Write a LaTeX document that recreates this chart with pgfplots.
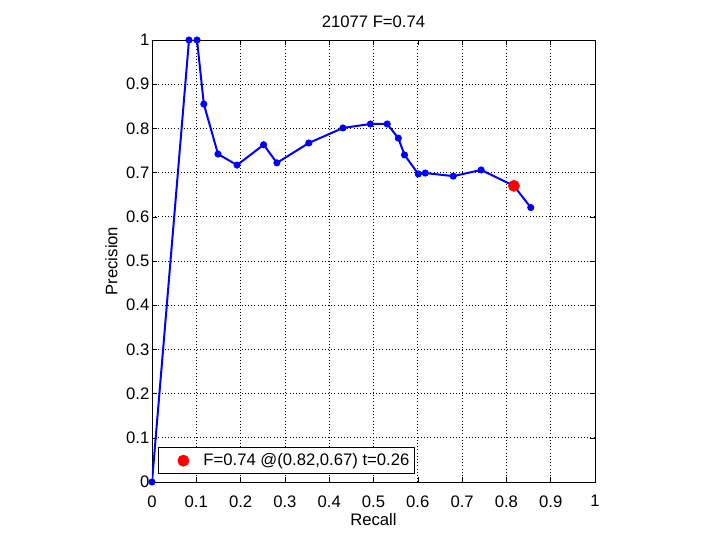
\documentclass[border=0pt]{standalone}
\usepackage{pgfplots}
\pgfplotsset{compat=1.18}
\usepackage{fontspec}
\setmainfont{Liberation Sans}
\begin{document}
\begin{tikzpicture}
\begin{axis}[
  at={(0,0)}, anchor=south west,
  scale only axis,
  width=332.25pt, height=331.5pt,
  xmin=0, xmax=1, ymin=0, ymax=1,
  xtick={0,0.1,...,1}, ytick={0,0.1,...,1},
  xticklabels={0,0.1,0.2,0.3,0.4,0.5,0.6,0.7,0.8,0.9,1},
  yticklabels={0,0.1,0.2,0.3,0.4,0.5,0.6,0.7,0.8,0.9,1},
  tick align=inside,
  major tick length=4pt,
  tick style={black, line width=0.4pt},
  grid=major,
  grid style={black, dotted, line width=0.5pt},
  axis line style={black, line width=0.5pt},
  /pgf/number format/assume math mode=true,
  tick label style={font=\fontsize{12.5}{14}\selectfont},
  xticklabel style={yshift=-6.5pt},
  yticklabel style={xshift=1.5pt},
  label style={font=\fontsize{12.5}{14}\selectfont},
  title style={font=\fontsize{12.5}{14}\selectfont, yshift=0pt},
  title={21077 F=0.74},
  xlabel={Recall}, ylabel={Precision},
  xlabel style={yshift=2pt},
  ylabel style={yshift=-0.5pt},
  legend style={at={(rel axis cs:0.0135,0.018)}, anchor=south west,
    draw=black, line width=0.5pt, font=\fontsize{12.5}{14}\selectfont,
    inner xsep=1.5pt, inner ysep=2.5pt, legend cell align=left},
  legend image code/.code={\path (0,0) (1.05cm,0); \draw[#1] plot coordinates {(0.6cm,0cm)};},
]
\addplot[blue, line width=1.5pt, mark=*, mark size=2.4pt, mark options={fill=blue, draw=blue, line width=0.5pt}, forget plot] coordinates {
(0,0) (0.0835,1) (0.1016,1) (0.117,0.855) (0.149,0.742) (0.192,0.717)
(0.252,0.763) (0.282,0.722) (0.354,0.767) (0.431,0.801) (0.493,0.810)
(0.531,0.810) (0.556,0.778) (0.570,0.740) (0.601,0.697) (0.617,0.699)
(0.680,0.692) (0.743,0.706) (0.817,0.670) (0.855,0.621)
};
\addplot[only marks, red, mark=*, mark size=4.2pt, mark options={fill=red, draw=red}] coordinates {(0.817,0.670)};
\addlegendentry{F=0.74 @(0.82,0.67) t=0.26}
\end{axis}
\path[use as bounding box] (-114pt,-43.5pt) rectangle (426pt,361.5pt);
\end{tikzpicture}
\end{document}
